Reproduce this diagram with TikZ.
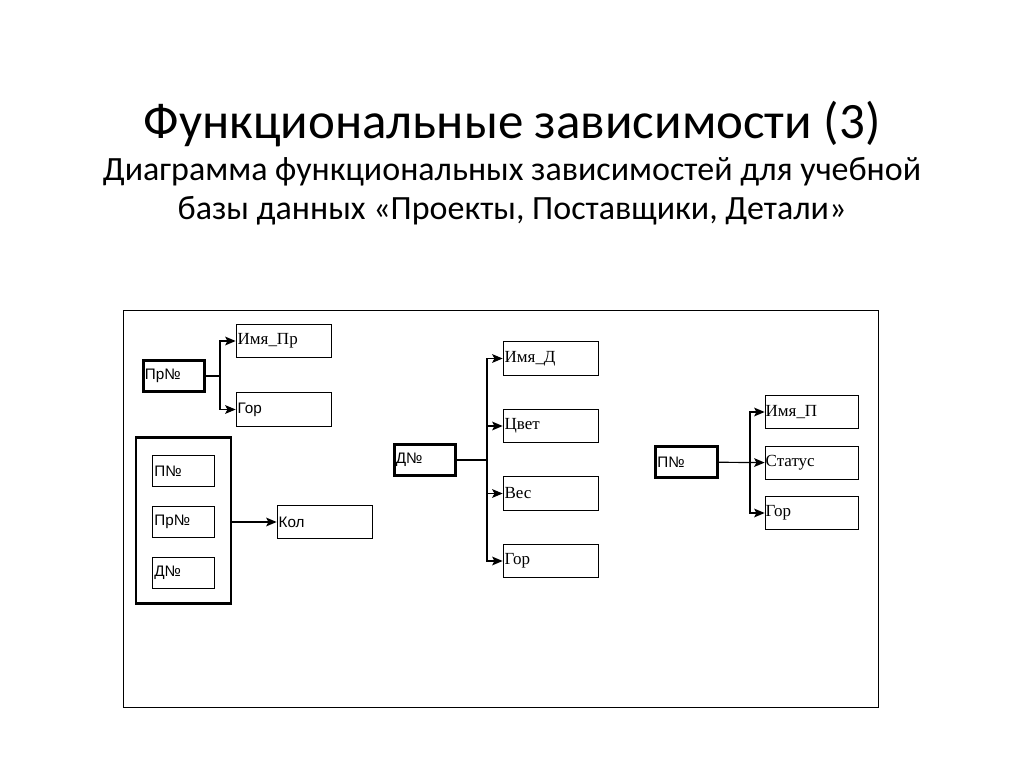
\documentclass[tikz,border=0pt]{standalone}
\usepackage{fontspec}
\setmainfont{Carlito}
\newfontfamily\serifru{Liberation Serif}
\newfontfamily\sansru{Liberation Sans}
\usetikzlibrary{arrows, arrows.meta}

\begin{document}
\begin{tikzpicture}[x=0.03cm, y=-0.03cm, >={Stealth[length=9pt, width=7.5pt, inset=2pt]}, line width=1pt,
		attr/.style={draw, rectangle, line width=0.6pt, minimum width=2.85cm, minimum height=1.0cm, text width=2.75cm, align=left, inner xsep=0.5pt, font=\serifru\fontsize{14.5}{16}\selectfont},
		attrs/.style={attr, font=\sansru\fontsize{13}{15}\selectfont},
		key/.style={draw, rectangle, line width=2.4pt, minimum width=1.85cm, minimum height=0.95cm, text width=1.75cm, align=left, inner xsep=0.5pt, font=\sansru\fontsize{13}{15}\selectfont},
		keyin/.style={key, line width=0.6pt}]
		\useasboundingbox (0,0) rectangle (1024,767);
		
		% title
		\node (title) at (512,124) {\fontsize{43.5}{50}\selectfont Функциональные зависимости (3)};
		\node (sub1) at (512,172) {\fontsize{29}{34}\selectfont Диаграмма функциональных зависимостей для учебной};
		\node (sub2) at (512,211) {\fontsize{29}{34}\selectfont базы данных «Проекты, Поставщики, Детали»};
		
		\draw[line width=0.7pt] (123,310) rectangle (878,707);
		
		% projects
		\node[key] (prn) at (174,376) {Пр№};
		\node[attr] (imyapr) at (283.5,341) {Имя\_Пр};
		\node[attrs] (gor1) at (283.5,409.5) {Гор};
		\coordinate (j1) at (220,376);
		
		% supply
		\node[draw, line width=2.4pt, minimum width=2.85cm, minimum height=5.0cm] (grp) at (183.5,520.5) {};
		\node[keyin] (pn1) at (183.5,471) {П№};
		\node[keyin] (prn2) at (183.5,522) {Пр№};
		\node[keyin] (dn1) at (183.5,573) {Д№};
		\node[attrs] (kol) at (324.5,522) {Кол};
		
		% parts
		\node[key] (dn) at (425,460) {Д№};
		\node[attr] (imyad) at (550.5,358.5) {Имя\_Д};
		\node[attr] (cvet) at (550.5,426) {Цвет};
		\node[attr] (ves) at (550.5,493.5) {Вес};
		\node[attr] (gor2) at (550.5,561) {Гор};
		\coordinate (j2) at (487,460);
		
		% suppliers
		\node[key] (pn) at (686.5,462) {П№};
		\node[attr, minimum width=2.79cm] (imyap) at (811.5,412) {Имя\_П};
		\node[attr, minimum width=2.79cm] (status) at (811.5,463) {Статус};
		\node[attr, minimum width=2.79cm] (gor3) at (811.5,513) {Гор};
		\coordinate (j3) at (750,462);
		
		\draw (prn) -- (j1);
		\draw[->] (j1) |- (imyapr);
		\draw[->] (j1) |- (gor1);
		\draw[->] (grp.east |- kol) -- (kol);
		\draw (dn) -- (j2);
		\draw[->] (j2) |- (imyad);
		\draw[->] (j2) |- (cvet);
		\draw[->] (j2) |- (ves);
		\draw[->] (j2) |- (gor2);
		\draw[->] (pn) -- (status);
		\draw[->] (j3) |- (imyap);
		\draw[->] (j3) |- (gor3);
	\end{tikzpicture}
\end{document}
